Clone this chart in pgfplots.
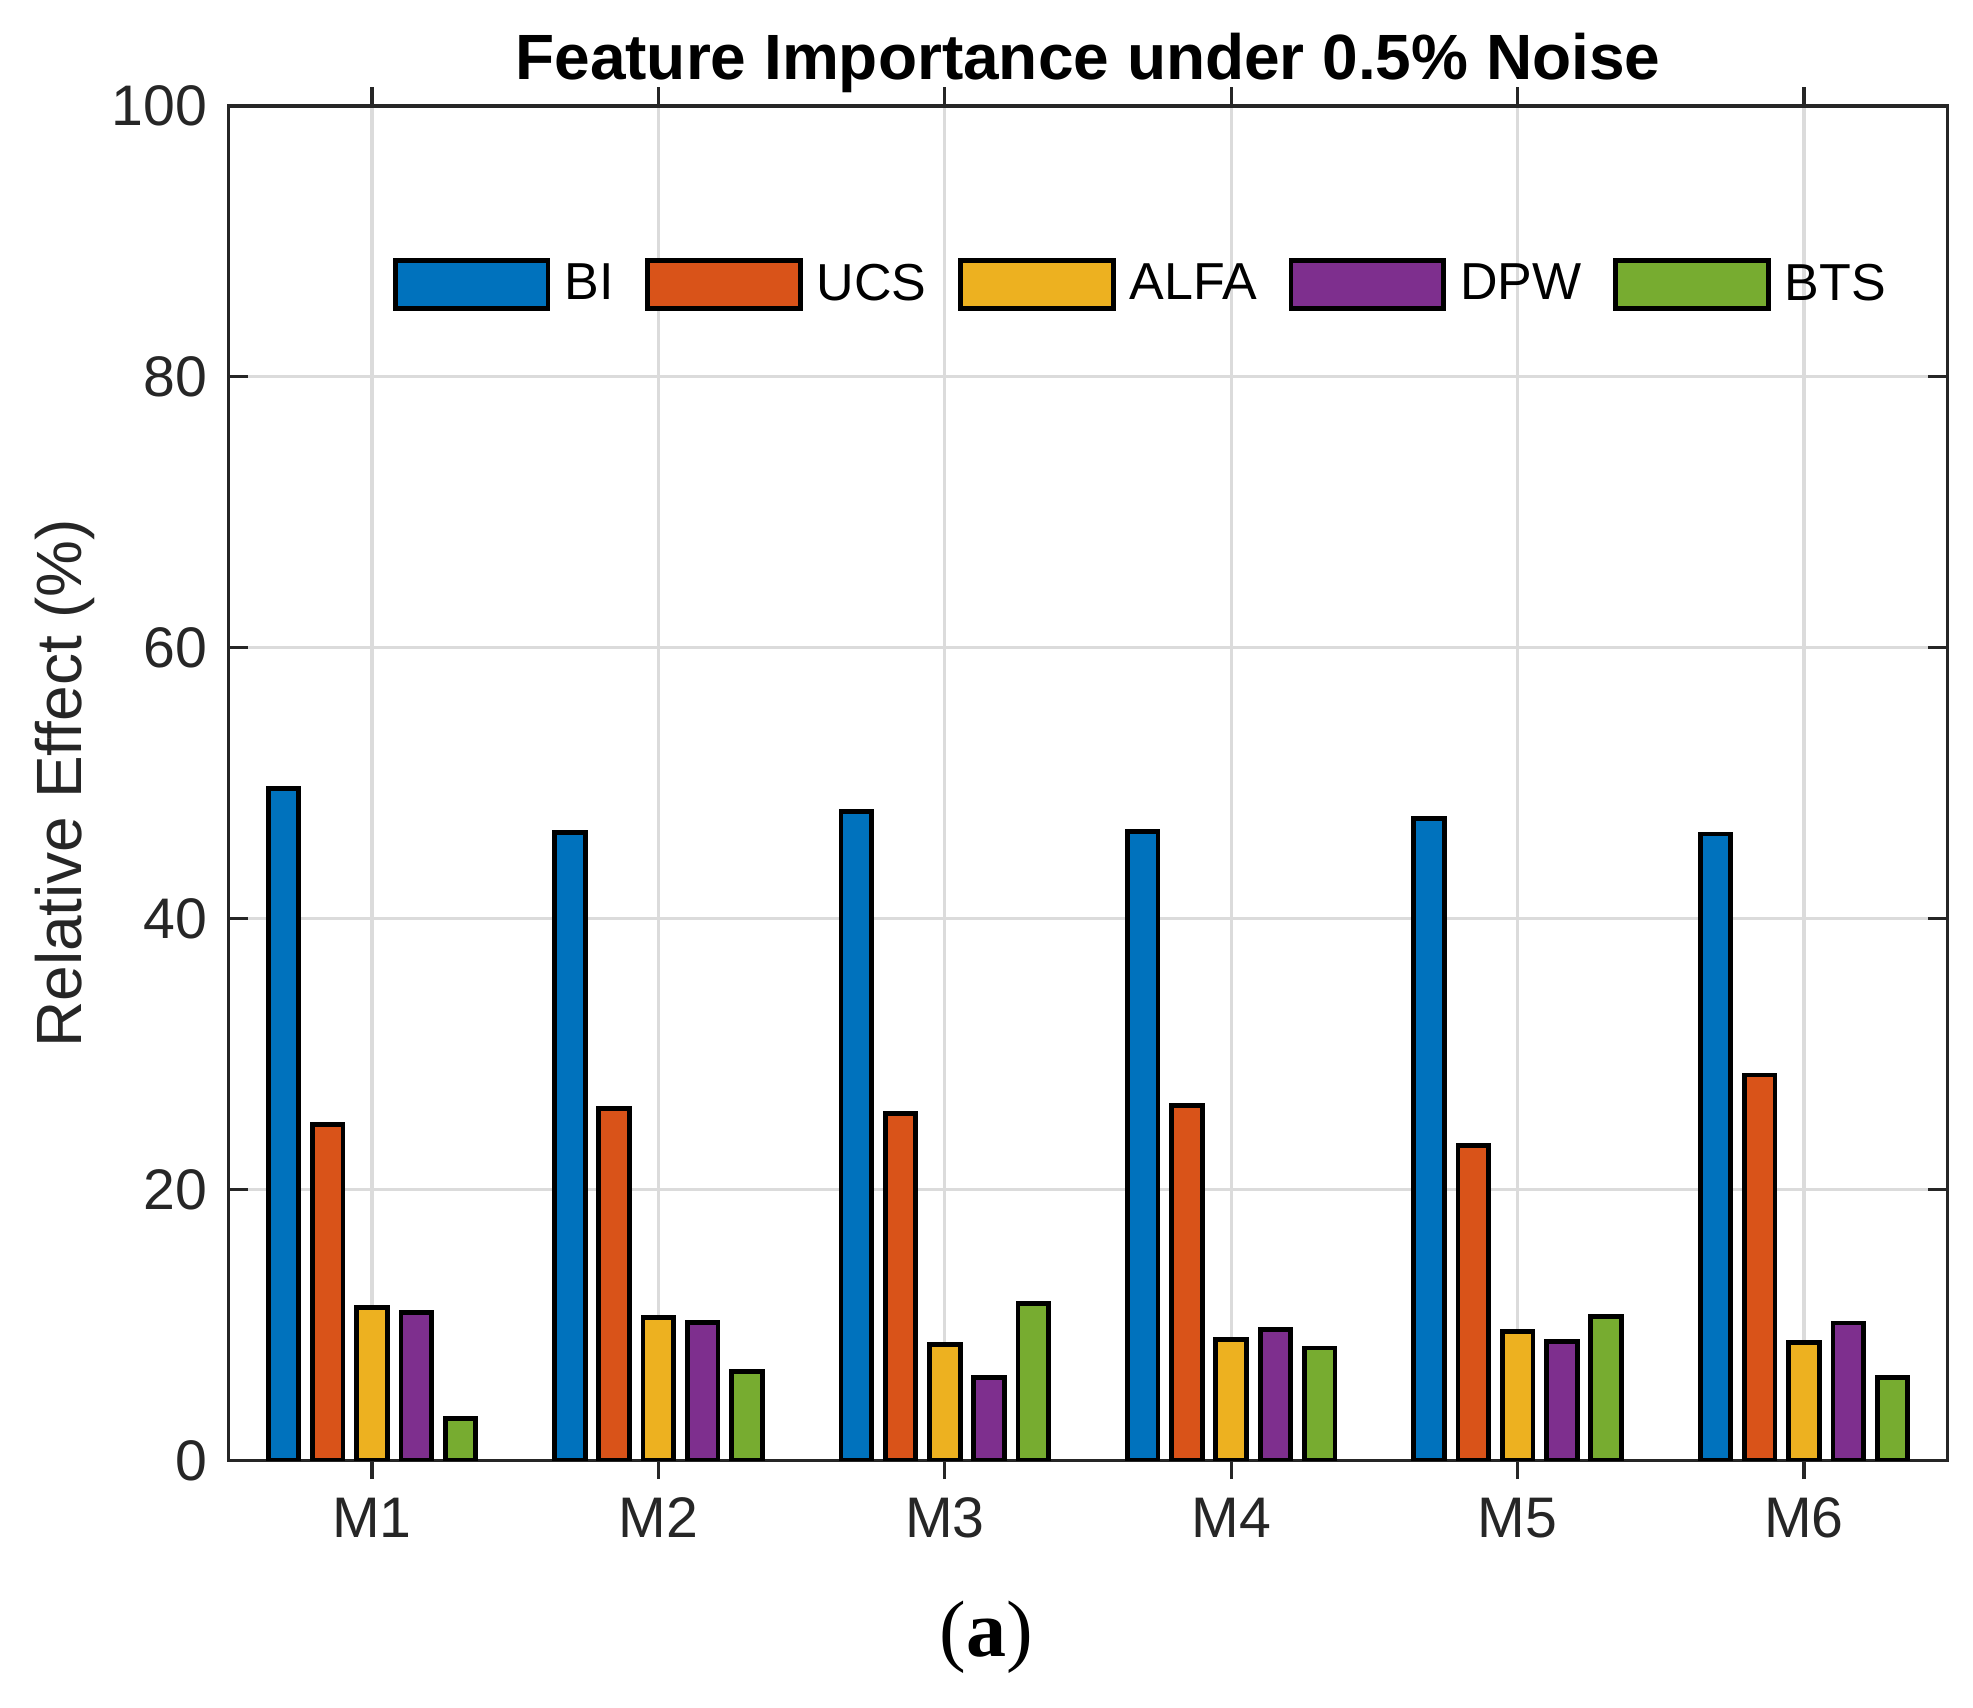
\documentclass[border=0pt]{standalone}
\usepackage{fontspec}
\setmainfont{Liberation Sans}
\newfontfamily\seriffont{Liberation Serif}
\usepackage{pgfplots}
\pgfplotsset{compat=1.18}
\pgfplotsset{layers/gridbelow/.define layer set={axis background,axis grid,main,axis ticks,axis lines,axis tick labels,axis descriptions,axis foreground}{}}
\definecolor{c1}{HTML}{0072BD}
\definecolor{c2}{HTML}{D95319}
\definecolor{c3}{HTML}{EDB120}
\definecolor{c4}{HTML}{7E2F8E}
\definecolor{c5}{HTML}{77AC30}
\definecolor{axgray}{HTML}{262626}
\definecolor{gridgray}{HTML}{DBDBDB}
\begin{document}
\begin{tikzpicture}
\begin{axis}[
  set layers=gridbelow,
  name=ax, at={(0,0)}, anchor=south west,
  scale only axis, width=429.6pt, height=338.6pt,
  xmin=0.5, xmax=6.5, ymin=0, ymax=100,
  ytick={0,20,40,60,80,100},
  xtick={1,2,3,4,5,6}, xticklabels={M1,M2,M3,M4,M5,M6},
  /pgf/number format/assume math mode=true,
  tick align=inside, tick pos=both, major tick length=4.7pt,
  grid=major, grid style={line width=0.8pt, color=gridgray},
  axis line style={line width=0.8pt, color=axgray},
  every tick/.style={line width=0.8pt, color=axgray},
  ticklabel style={font=\fontsize{14.3}{17}\selectfont, color=axgray},
  xticklabel style={yshift=-1.1pt},
  yticklabel style={xshift=-1.9pt},
  ylabel={Relative Effect (\%)},
  ylabel style={font=\fontsize{16}{19}\selectfont, color=axgray, at={(axis description cs:-0.0859,0.5)}, anchor=base},
  title={Feature Importance under 0.5\% Noise},
  title style={font=\fontsize{16}{19}\selectfont\bfseries, color=black, at={(axis description cs:0.5,1)}, anchor=base, yshift=0.7pt},
  ybar, bar width=0.107,
  legend columns=5,
  legend cell align=left,
  legend image code/.code={\draw[#1] (0pt,-6pt) rectangle (38.2pt,6pt);},
  legend style={at={(0.095,0.888)}, anchor=north west, draw=none, fill=none, inner sep=0pt,
    font=\fontsize{13}{15.6}\selectfont, text=black,
    nodes={inner sep=0pt},
    column sep=0pt,
    /tikz/every odd column/.append style={column sep=3.5pt},
    /tikz/every even column/.append style={column sep=7.9pt}},
]
\addplot[ybar, fill=c1, draw=black, line width=1.2pt, bar shift=-0.3092] coordinates {(1,49.6) (2,46.35) (3,47.9) (4,46.45) (5,47.4) (6,46.25)};
\addplot[ybar, fill=c2, draw=black, line width=1.2pt, bar shift=-0.1546] coordinates {(1,24.8) (2,26.0) (3,25.6) (4,26.2) (5,23.25) (6,28.45)};
\addplot[ybar, fill=c3, draw=black, line width=1.2pt, bar shift=0] coordinates {(1,11.3) (2,10.55) (3,8.55) (4,8.9) (5,9.5) (6,8.7)};
\addplot[ybar, fill=c4, draw=black, line width=1.2pt, bar shift=0.1546] coordinates {(1,10.95) (2,10.2) (3,6.1) (4,9.65) (5,8.8) (6,10.15)};
\addplot[ybar, fill=c5, draw=black, line width=1.2pt, bar shift=0.3092] coordinates {(1,3.1) (2,6.55) (3,11.6) (4,8.3) (5,10.65) (6,6.1)};
\legend{BI,UCS,ALFA,DPW,BTS}
\end{axis}
\node[font=\fontsize{20}{24}\selectfont\seriffont, anchor=base] at ([shift={(189.4pt,-49.05pt)}]ax.south west) {(\textbf{a})};
\pgfresetboundingbox
\path ([shift={(-57.2pt,-61.65pt)}]ax.south west) rectangle ++(493.25pt,426.75pt);
\end{tikzpicture}
\end{document}
